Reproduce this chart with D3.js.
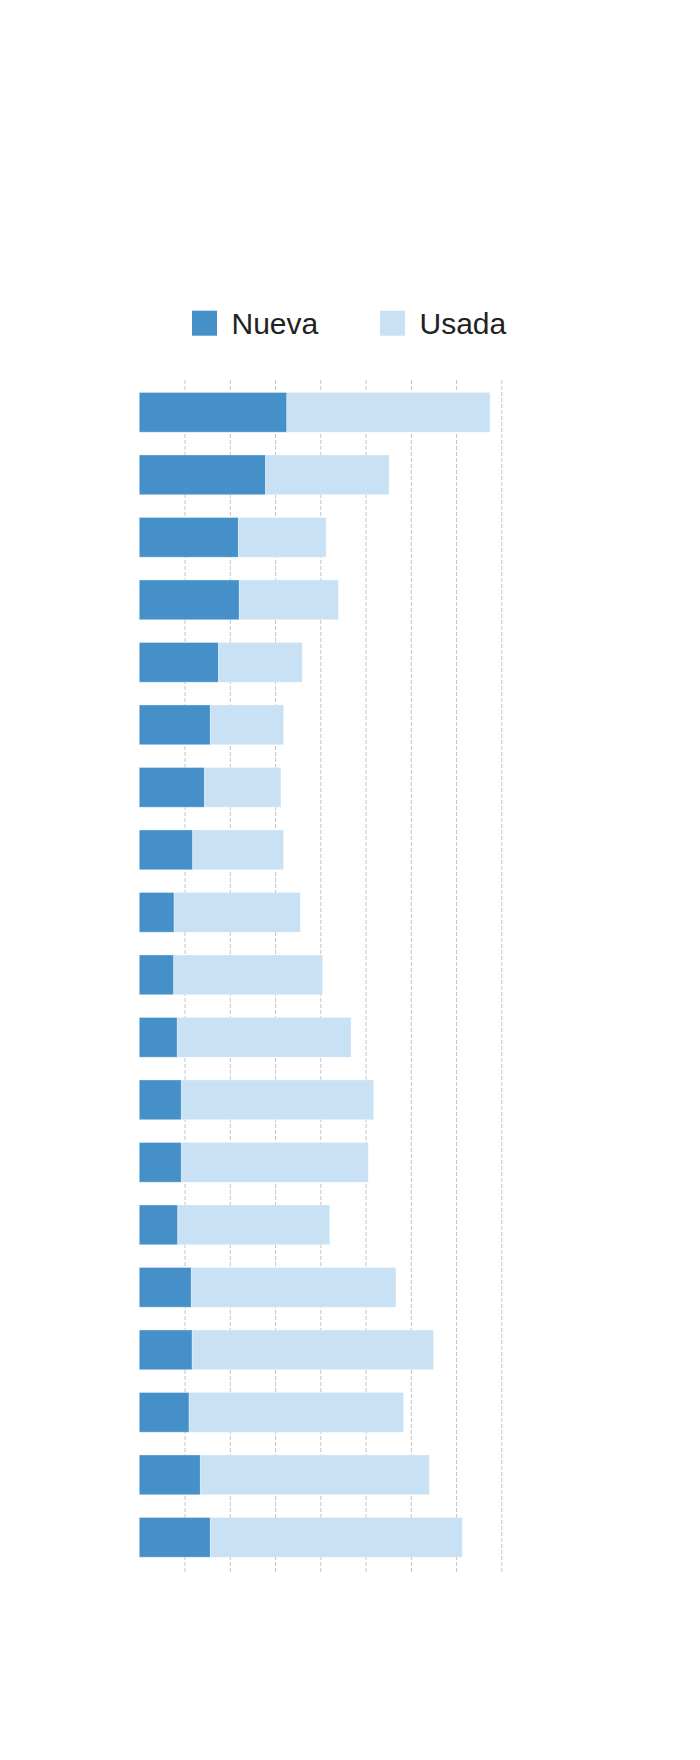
<!DOCTYPE html>
<html lang="es">
<head>
  <meta charset="UTF-8">
  <title>Nueva vs Usada</title>
  <style>
    body { margin: 0; background: #fff; }
    .grid line { stroke: #c4c4c4; stroke-dasharray: 4,2; }
    .legend text { font-family: "Liberation Sans", Arial, sans-serif; font-size: 30px; fill: #222; }
  </style>
</head>
<body>
<svg class="chart"></svg>
<script src="https://d3js.org/d3.v7.min.js"></script>
<script>
  // Data (row labels are not shown in the chart)
  const categories = ['1','2','3','4','5','6','7','8','9','10','11','12','13','14','15','16','17','18','19'];
  const nueva = [3.26, 2.79, 2.19, 2.21, 1.75, 1.57, 1.44, 1.18, 0.77, 0.76, 0.84, 0.93, 0.93, 0.85, 1.15, 1.17, 1.10, 1.35, 1.57];
  const usada = [4.49, 2.73, 1.94, 2.19, 1.85, 1.62, 1.69, 2.01, 2.79, 3.29, 3.84, 4.25, 4.13, 3.36, 4.52, 5.33, 4.74, 5.06, 5.57];
  const gridTicks = [1, 2, 3, 4, 5, 6, 7, 8];
  const seriesNames = ['Nueva', 'Usada'];
  const colors = ['#4590c9', '#c9e1f4'];

  const width = 700;
  const height = 1760;
  const margin = { top: 380, left: 139.3, right: 198.7, bottom: 188 };
  const innerW = width - margin.left - margin.right;
  const innerH = height - margin.top - margin.bottom;

  const svg = d3.select('.chart')
    .attr('width', width)
    .attr('height', height);

  const g = svg.append('g')
    .attr('transform', `translate(${margin.left},${margin.top})`);

  const x = d3.scaleLinear().domain([0, 8]).range([0, innerW]);
  const y = d3.scaleBand()
    .domain(categories)
    .range([0, innerH - 2.3])
    .paddingInner(0.365)
    .paddingOuter(0.2);

  // dashed vertical grid
  g.append('g')
    .attr('class', 'grid')
    .attr('transform', `translate(0,${innerH})`)
    .call(d3.axisBottom(x).tickValues(gridTicks).tickSize(-innerH).tickFormat(''))
    .call(s => s.select('.domain').remove());

  const rows = categories.map((c, i) => ({ cat: c, nueva: nueva[i], usada: usada[i] }));
  const stack = d3.stack().keys(['nueva', 'usada'])(rows);

  g.selectAll('.series')
    .data(stack)
    .enter().append('g')
    .attr('class', 'series')
    .attr('fill', (d, i) => colors[i])
    .selectAll('rect')
    .data(d => d)
    .enter().append('rect')
    .attr('x', d => x(d[0]))
    .attr('y', d => y(d.data.cat))
    .attr('width', d => x(d[1]) - x(d[0]))
    .attr('height', y.bandwidth())
    .attr('stroke', '#fff')
    .attr('stroke-opacity', 0.3);

  // legend
  const legend = svg.append('g').attr('class', 'legend');
  const legendX = [192, 380];
  seriesNames.forEach((name, i) => {
    legend.append('rect')
      .attr('x', legendX[i])
      .attr('y', 310.7)
      .attr('width', 25)
      .attr('height', 25)
      .attr('fill', colors[i]);
    legend.append('text')
      .attr('x', legendX[i] + 39.5)
      .attr('y', 334)
      .text(name);
  });
</script>
</body>
</html>
